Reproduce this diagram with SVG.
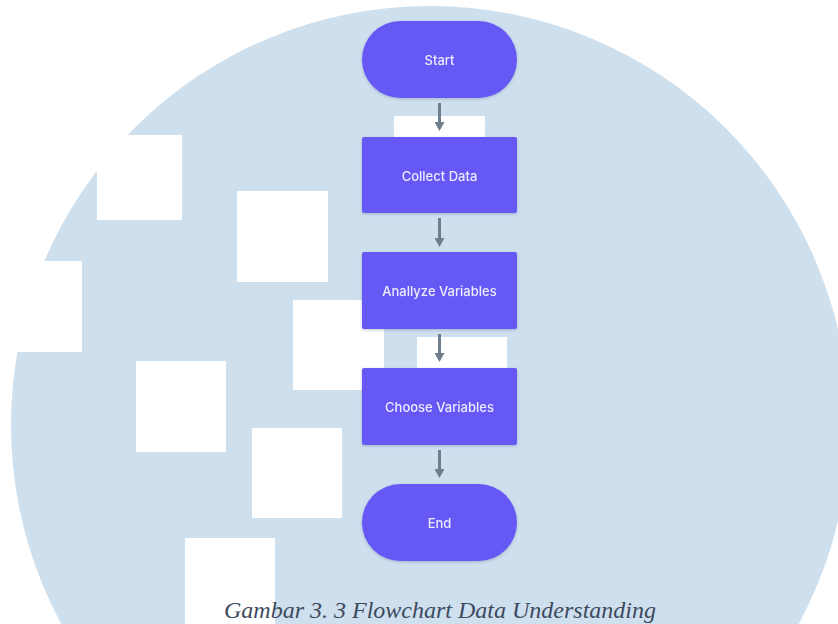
<svg xmlns="http://www.w3.org/2000/svg" width="838" height="624" viewBox="0 0 838 624">
<defs>
<style>
.sq{fill:#ffffff}
.node{fill:#6559f5}
.lbl{fill:#ecebff;font-family:Inter,"Noto Sans",sans-serif;font-size:13px;font-weight:500;text-anchor:middle;dominant-baseline:central}
.edge{stroke:#6e7e8c;stroke-width:3;fill:none}
.cap{fill:#3d4a5e;font-family:"Liberation Serif","Times New Roman",serif;font-style:italic;font-size:24px;text-anchor:middle}
</style>
<filter id="sh" x="-10%" y="-10%" width="120%" height="130%">
<feDropShadow dx="0" dy="1" stdDeviation="1.5" flood-color="#4a5a80" flood-opacity="0.35"/>
</filter>
<marker id="ah" markerWidth="9" markerHeight="10" refX="2" refY="5" orient="auto" markerUnits="userSpaceOnUse" viewBox="0 0 9 10">
<path d="M0,0 L9,5 L0,10 Z" fill="#6e7e8c"/>
</marker>
</defs>
<rect width="838" height="624" fill="#ffffff"/>
<circle cx="430" cy="425" r="419" fill="#cedfee"/>
<g id="squares">
<rect class="sq" x="97" y="135" width="85" height="85"/>
<rect class="sq" x="237" y="191" width="91" height="91"/>
<rect class="sq" x="-9" y="261" width="91" height="91"/>
<rect class="sq" x="293" y="300" width="91" height="90"/>
<rect class="sq" x="136" y="361" width="90" height="91"/>
<rect class="sq" x="252" y="428" width="90" height="90"/>
<rect class="sq" x="185" y="538" width="90" height="91"/>
<rect class="sq" x="394" y="116" width="91" height="91"/>
<rect class="sq" x="417" y="337" width="90" height="91"/>
</g>
<g id="connectors">
<line class="edge" x1="439.5" y1="103" x2="439.5" y2="124" marker-end="url(#ah)"/>
<line class="edge" x1="439.5" y1="218" x2="439.5" y2="240" marker-end="url(#ah)"/>
<line class="edge" x1="439.5" y1="334" x2="439.5" y2="355" marker-end="url(#ah)"/>
<line class="edge" x1="439.5" y1="450" x2="439.5" y2="471" marker-end="url(#ah)"/>
</g>
<g id="start" filter="url(#sh)">
<rect class="node" x="362" y="21" width="155" height="77" rx="38.5"/>
<text class="lbl" x="439.5" y="60">Start</text>
</g>
<g id="collect" filter="url(#sh)">
<rect class="node" x="362" y="137" width="155" height="76" rx="2"/>
<text class="lbl" x="439.5" y="176">Collect Data</text>
</g>
<g id="analyze" filter="url(#sh)">
<rect class="node" x="362" y="252" width="155" height="77" rx="2"/>
<text class="lbl" x="439.5" y="291">Anallyze Variables</text>
</g>
<g id="choose" filter="url(#sh)">
<rect class="node" x="362" y="368" width="155" height="77" rx="2"/>
<text class="lbl" x="439.5" y="407">Choose Variables</text>
</g>
<g id="end" filter="url(#sh)">
<rect class="node" x="362" y="484" width="155" height="77" rx="38.5"/>
<text class="lbl" x="439.5" y="523">End</text>
</g>
<text class="cap" x="440" y="618">Gambar 3. 3 Flowchart Data Understanding</text>
</svg>
